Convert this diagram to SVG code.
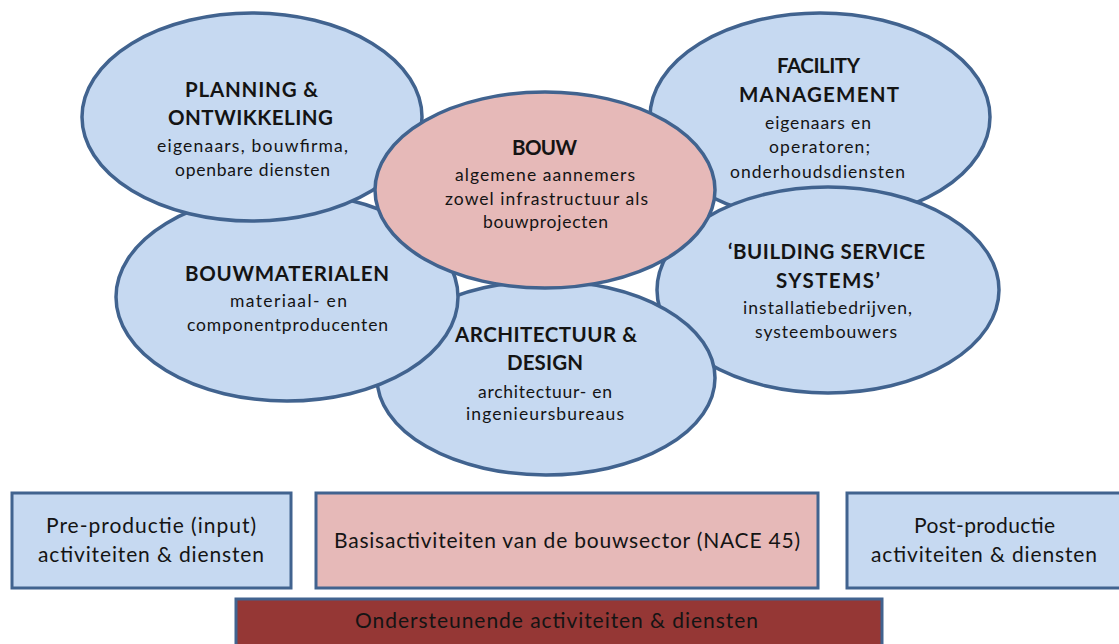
<svg xmlns="http://www.w3.org/2000/svg" width="1119" height="644" viewBox="0 0 1119 644">
<style>
.blue{fill:#c6d9f1;stroke:#41638f;stroke-width:3.5}
.pink{fill:#e6b9b8;stroke:#41638f;stroke-width:3.5}
.box{stroke:#41638f;stroke-width:3}
.t{font-family:Lato,"Liberation Sans",sans-serif;fill:#141414}
.b{font-weight:bold;font-size:20.5px}
.n{font-size:17.5px}
.bx{font-size:21px}
</style>
<rect width="1119" height="644" fill="#ffffff"/>
<g id="facility">
<ellipse class="blue" cx="820" cy="117" rx="170" ry="104"/>
<text class="t b" x="777" y="73" textLength="83">FACILITY</text>
<text class="t b" x="739" y="102" textLength="160">MANAGEMENT</text>
<text class="t n" x="765" y="129" textLength="106">eigenaars en</text>
<text class="t n" x="769" y="153" textLength="101">operatoren;</text>
<text class="t n" x="730" y="178" textLength="175">onderhoudsdiensten</text>
</g>
<g id="bss">
<ellipse class="blue" cx="828" cy="290" rx="171" ry="103"/>
<text class="t b" x="728" y="259" textLength="197">‘BUILDING SERVICE</text>
<text class="t b" x="776" y="288" textLength="104">SYSTEMS’</text>
<text class="t n" x="743" y="314" textLength="169">installatiebedrijven,</text>
<text class="t n" x="755" y="338" textLength="142">systeembouwers</text>
</g>
<g id="architectuur">
<ellipse class="blue" cx="546" cy="378" rx="169" ry="97"/>
<text class="t b" x="455" y="342" textLength="182">ARCHITECTUUR &amp;</text>
<text class="t b" x="507" y="370" textLength="76">DESIGN</text>
<text class="t n" x="478" y="398" textLength="134">architectuur- en</text>
<text class="t n" x="466" y="420" textLength="158">ingenieursbureaus</text>
</g>
<g id="bouwmaterialen">
<ellipse class="blue" cx="287" cy="297" rx="171" ry="104"/>
<text class="t b" x="185" y="281" textLength="204">BOUWMATERIALEN</text>
<text class="t n" x="230" y="307" textLength="117">materiaal- en</text>
<text class="t n" x="187" y="331" textLength="201">componentproducenten</text>
</g>
<g id="planning">
<ellipse class="blue" cx="252" cy="117" rx="170" ry="104"/>
<text class="t b" x="185" y="97" textLength="133">PLANNING &amp;</text>
<text class="t b" x="168" y="125" textLength="165">ONTWIKKELING</text>
<text class="t n" x="157" y="152" textLength="191">eigenaars, bouwfirma,</text>
<text class="t n" x="175" y="176" textLength="155">openbare diensten</text>
</g>
<g id="bouw">
<ellipse class="pink" cx="545" cy="190" rx="170" ry="98"/>
<text class="t b" x="512" y="155" textLength="65">BOUW</text>
<text class="t n" x="455" y="181" textLength="180">algemene aannemers</text>
<text class="t n" x="445" y="205" textLength="203">zowel infrastructuur als</text>
<text class="t n" x="483" y="228" textLength="125">bouwprojecten</text>
</g>
<g id="pre">
<rect class="box" x="12" y="493" width="279" height="95" fill="#c6d9f1"/>
<text class="t bx" x="46" y="533" textLength="210">Pre-productie (input)</text>
<text class="t bx" x="38" y="562" textLength="226">activiteiten &amp; diensten</text>
</g>
<g id="basis">
<rect class="box" x="316" y="493" width="502" height="95" fill="#e6b9b8"/>
<text class="t bx" x="334" y="548" textLength="466">Basisactiviteiten van de bouwsector (NACE 45)</text>
</g>
<g id="post">
<rect class="box" x="847" y="493" width="280" height="95" fill="#c6d9f1"/>
<text class="t bx" x="914" y="533" textLength="141">Post-productie</text>
<text class="t bx" x="871" y="562" textLength="226">activiteiten &amp; diensten</text>
</g>
<g id="ondersteunend">
<rect class="box" x="236" y="599" width="646" height="60" fill="#953735"/>
<text class="t bx" x="355" y="628" textLength="403">Ondersteunende activiteiten &amp; diensten</text>
</g>
<g id="connectors"></g>
</svg>
